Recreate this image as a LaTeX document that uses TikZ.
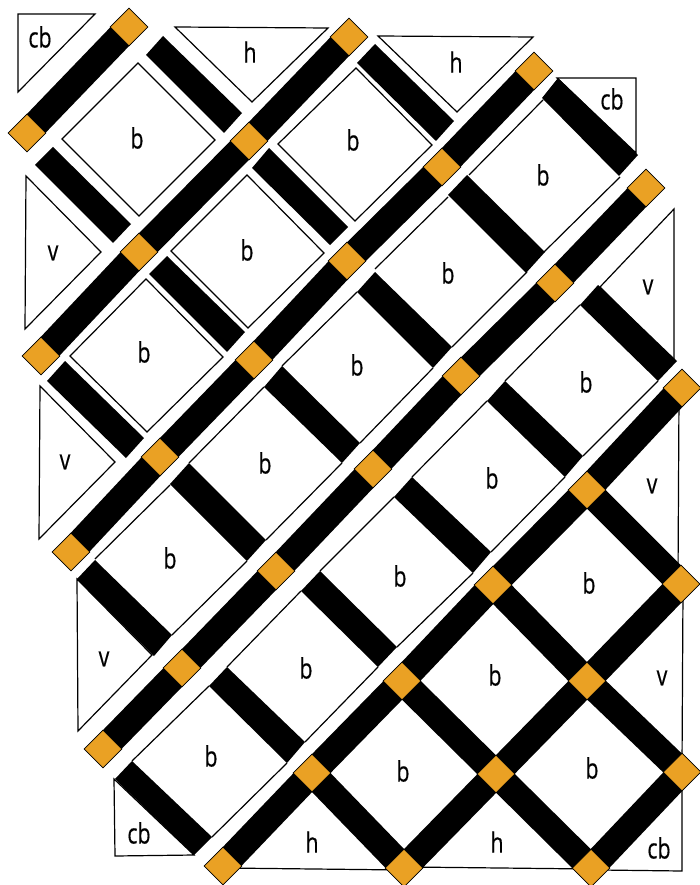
\documentclass[tikz,border=0pt]{standalone}
\usepackage{fontspec}
\setmainfont[FakeStretch=0.76,FakeBold=0.4]{Open Sans}
\usetikzlibrary{shapes.geometric}
\pgfdeclarelayer{base}
\pgfdeclarelayer{bars}
\pgfsetlayers{base,bars,main}
\tikzset{
  tile/.style={draw=black,fill=white,line width=1.2pt,line join=miter},
  pane/.style={fill=white,draw=none},
  paneedge/.style={draw=black,line width=1.2pt},
  freebar/.style={fill=black,draw=none},
  bar/.style={draw=black,line width=26.5pt,line cap=butt},
  joint/.style={diamond,aspect=1,draw=black,line width=0.8pt,fill=jointorange,minimum width=38pt,minimum height=38pt,inner sep=0pt},
  lab/.style={inner sep=0pt,font=\fontsize{28}{30}\selectfont,text=black}
}
\definecolor{jointorange}{HTML}{EAA124}
\begin{document}
\begin{tikzpicture}[x=1pt,y=-1pt]
\useasboundingbox (0,0) rectangle (699,885);
% joints
\node[joint] (a1) at (129,27) {};
\node[joint] (a2) at (27,133) {};
\node[joint] (b1) at (349,37) {};
\node[joint] (b2) at (249,141) {};
\node[joint] (b3) at (139,252) {};
\node[joint] (b4) at (41,356) {};
\node[joint] (c1) at (534,71) {};
\node[joint] (c2) at (442,167) {};
\node[joint] (c3) at (347,261) {};
\node[joint] (c4) at (254,360) {};
\node[joint] (c5) at (160,457) {};
\node[joint] (c6) at (71,552) {};
\node[joint] (d1) at (646,188) {};
\node[joint] (d2) at (555,283) {};
\node[joint] (d3) at (461,376) {};
\node[joint] (d4) at (373,469) {};
\node[joint] (d5) at (276,571) {};
\node[joint] (d6) at (182,668) {};
\node[joint] (d7) at (103,749) {};
\node[joint] (e1) at (682,388) {};
\node[joint] (e2) at (587,490) {};
\node[joint] (e3) at (493,585) {};
\node[joint] (e4) at (402,681) {};
\node[joint] (e5) at (312,773) {};
\node[joint] (e6) at (223,866) {};
\node[joint] (f1) at (681,584) {};
\node[joint] (f2) at (587,681) {};
\node[joint] (f3) at (496,774) {};
\node[joint] (f4) at (404,868) {};
\node[joint] (g1) at (682,772) {};
\node[joint] (g2) at (591,868) {};
\begin{pgfonlayer}{bars}
\draw[bar] (a1.center) -- (a2.center);
\draw[bar] (b1.center) -- (b2.center) -- (b3.center) -- (b4.center);
\draw[bar] (c1.center) -- (c2.center) -- (c3.center) -- (c4.center) -- (c5.center) -- (c6.center);
\draw[bar] (d1.center) -- (d2.center) -- (d3.center) -- (d4.center) -- (d5.center) -- (d6.center) -- (d7.center);
\draw[bar] (e1.center) -- (e2.center) -- (e3.center) -- (e4.center) -- (e5.center) -- (e6.center);
\draw[bar] (f1.center) -- (f2.center) -- (f3.center) -- (f4.center);
\draw[bar] (g1.center) -- (g2.center);
\draw[bar] (e2.center) -- (f1.center);
\draw[bar] (e3.center) -- (f2.center) -- (g1.center);
\draw[bar] (e4.center) -- (f3.center) -- (g2.center);
\draw[bar] (e5.center) -- (f4.center);
% free cross bars
\fill[freebar] (163,36) -- (146,55) -- (224,133) -- (242,113) -- cycle;
\fill[freebar] (53,147) -- (35,165) -- (113,243) -- (131,224) -- cycle;
\fill[freebar] (167,256) -- (149,274) -- (227,352) -- (245,332) -- cycle;
\fill[freebar] (269,148) -- (252,168) -- (330,245) -- (348,227) -- cycle;
\fill[freebar] (375,44) -- (357,63) -- (436,141) -- (454,121) -- cycle;
\fill[freebar] (65,361) -- (47,381) -- (126,458) -- (144,438) -- cycle;
\fill[freebar] (189,463) -- (170,484) -- (247,561) -- (266,540) -- cycle;
\fill[freebar] (282,366) -- (264,387) -- (342,463) -- (360,443) -- cycle;
\fill[freebar] (467,175) -- (448,195) -- (526,273) -- (545,252) -- cycle;
\fill[freebar] (558,78) -- (542,98) -- (619,176) -- (638,155) -- cycle;
\fill[freebar] (375,272) -- (357,292) -- (433,368) -- (452,347) -- cycle;
\fill[freebar] (598,285) -- (580,305) -- (658,381) -- (677,361) -- cycle;
\fill[freebar] (505,381) -- (487,401) -- (565,477) -- (583,456) -- cycle;
\fill[freebar] (412,477) -- (394,497) -- (473,573) -- (491,552) -- cycle;
\fill[freebar] (320,571) -- (301,591) -- (378,667) -- (397,647) -- cycle;
\fill[freebar] (227,667) -- (209,686) -- (287,763) -- (305,742) -- cycle;
\fill[freebar] (132,761) -- (115,779) -- (194,855) -- (212,837) -- cycle;
\fill[freebar] (95,560) -- (77,579) -- (154,656) -- (172,635) -- cycle;
\end{pgfonlayer}
\begin{pgfonlayer}{base}
% triangles
\draw[tile] (18,14) -- (95,14) -- (18,92) -- cycle;
\draw[tile] (175,27) -- (328,28) -- (252,102) -- cycle;
\draw[tile] (378,36) -- (533,37) -- (457,112) -- cycle;
\draw[tile] (557,78) -- (636,78) -- (636,153) -- cycle;
\draw[tile] (26,176) -- (101,252) -- (25,329) -- cycle;
\draw[tile] (40,386) -- (115,462) -- (39,539) -- cycle;
\draw[tile] (77,579) -- (152,655) -- (78,731) -- cycle;
\draw[tile] (674,209) -- (600,287) -- (674,361) -- cycle;
\draw[tile] (679,395) -- (590,490) -- (678,578) -- cycle;
\draw[tile] (683,590) -- (590,681) -- (682,765) -- cycle;
\draw[tile] (114,779) -- (115,856) -- (194,855) -- cycle;
\draw[tile] (225,868) -- (312,780) -- (404,870) -- cycle;
\draw[tile] (410,867) -- (497,780) -- (591,869) -- cycle;
\draw[tile] (682,785) -- (682,871) -- (600,870) -- cycle;
% squares
\draw[tile] (138,63) -- (62,139) -- (139,216) -- (215,140) -- cycle;
\draw[tile] (247,175) -- (171,251) -- (248,328) -- (324,253) -- cycle;
\draw[tile] (146,279) -- (70,356) -- (147,432) -- (223,357) -- cycle;
\draw[tile] (356,68) -- (278,144) -- (355,221) -- (432,145) -- cycle;
% squares whose other two sides lie under the cross bars
\draw[paneedge] (543,100) -- (469,175) (544,252) -- (620,177);
\draw[paneedge] (448,197) -- (375,269) (452,347) -- (527,272);
\draw[paneedge] (357,292) -- (282,366) (360,443) -- (433,368);
\draw[paneedge] (264,387) -- (189,463) (266,540) -- (342,463);
\draw[paneedge] (170,485) -- (95,559) (172,635) -- (247,561);
\draw[paneedge] (580,305) -- (505,381) (583,456) -- (658,381);
\draw[paneedge] (487,401) -- (412,477) (491,552) -- (565,477);
\draw[paneedge] (394,497) -- (320,571) (397,647) -- (473,573);
\draw[paneedge] (301,591) -- (227,667) (305,742) -- (378,667);
\draw[paneedge] (209,686) -- (132,761) (212,837) -- (287,763);
\end{pgfonlayer}
% labels
\node[lab] (l1) at (40,37) {cb};
\node[lab] (l2) at (250,52) {h};
\node[lab] (l3) at (456,62) {h};
\node[lab] (l4) at (612,99) {cb};
\node[lab] (l5) at (53,253) {v};
\node[lab] (l6) at (65,462) {v};
\node[lab] (l7) at (104,659) {v};
\node[lab] (l8) at (648,287) {v};
\node[lab] (l9) at (652,486) {v};
\node[lab] (l10) at (662,678) {v};
\node[lab] (l11) at (139,833) {cb};
\node[lab] (l12) at (312,842) {h};
\node[lab] (l13) at (497,842) {h};
\node[lab] (l14) at (659,848) {cb};
\node[lab] (s1) at (137,138) {b};
\node[lab] (s2) at (247,250) {b};
\node[lab] (s3) at (144,352) {b};
\node[lab] (s4) at (353,140) {b};
\node[lab] (s5) at (543,175) {b};
\node[lab] (s6) at (448,273) {b};
\node[lab] (s7) at (357,365) {b};
\node[lab] (s8) at (265,463) {b};
\node[lab] (s9) at (170,558) {b};
\node[lab] (s10) at (586,382) {b};
\node[lab] (s11) at (492,478) {b};
\node[lab] (s12) at (400,576) {b};
\node[lab] (s13) at (306,668) {b};
\node[lab] (s14) at (211,756) {b};
\node[lab] (s15) at (589,583) {b};
\node[lab] (s16) at (495,675) {b};
\node[lab] (s17) at (403,771) {b};
\node[lab] (s18) at (592,768) {b};
\end{tikzpicture}
\end{document}
